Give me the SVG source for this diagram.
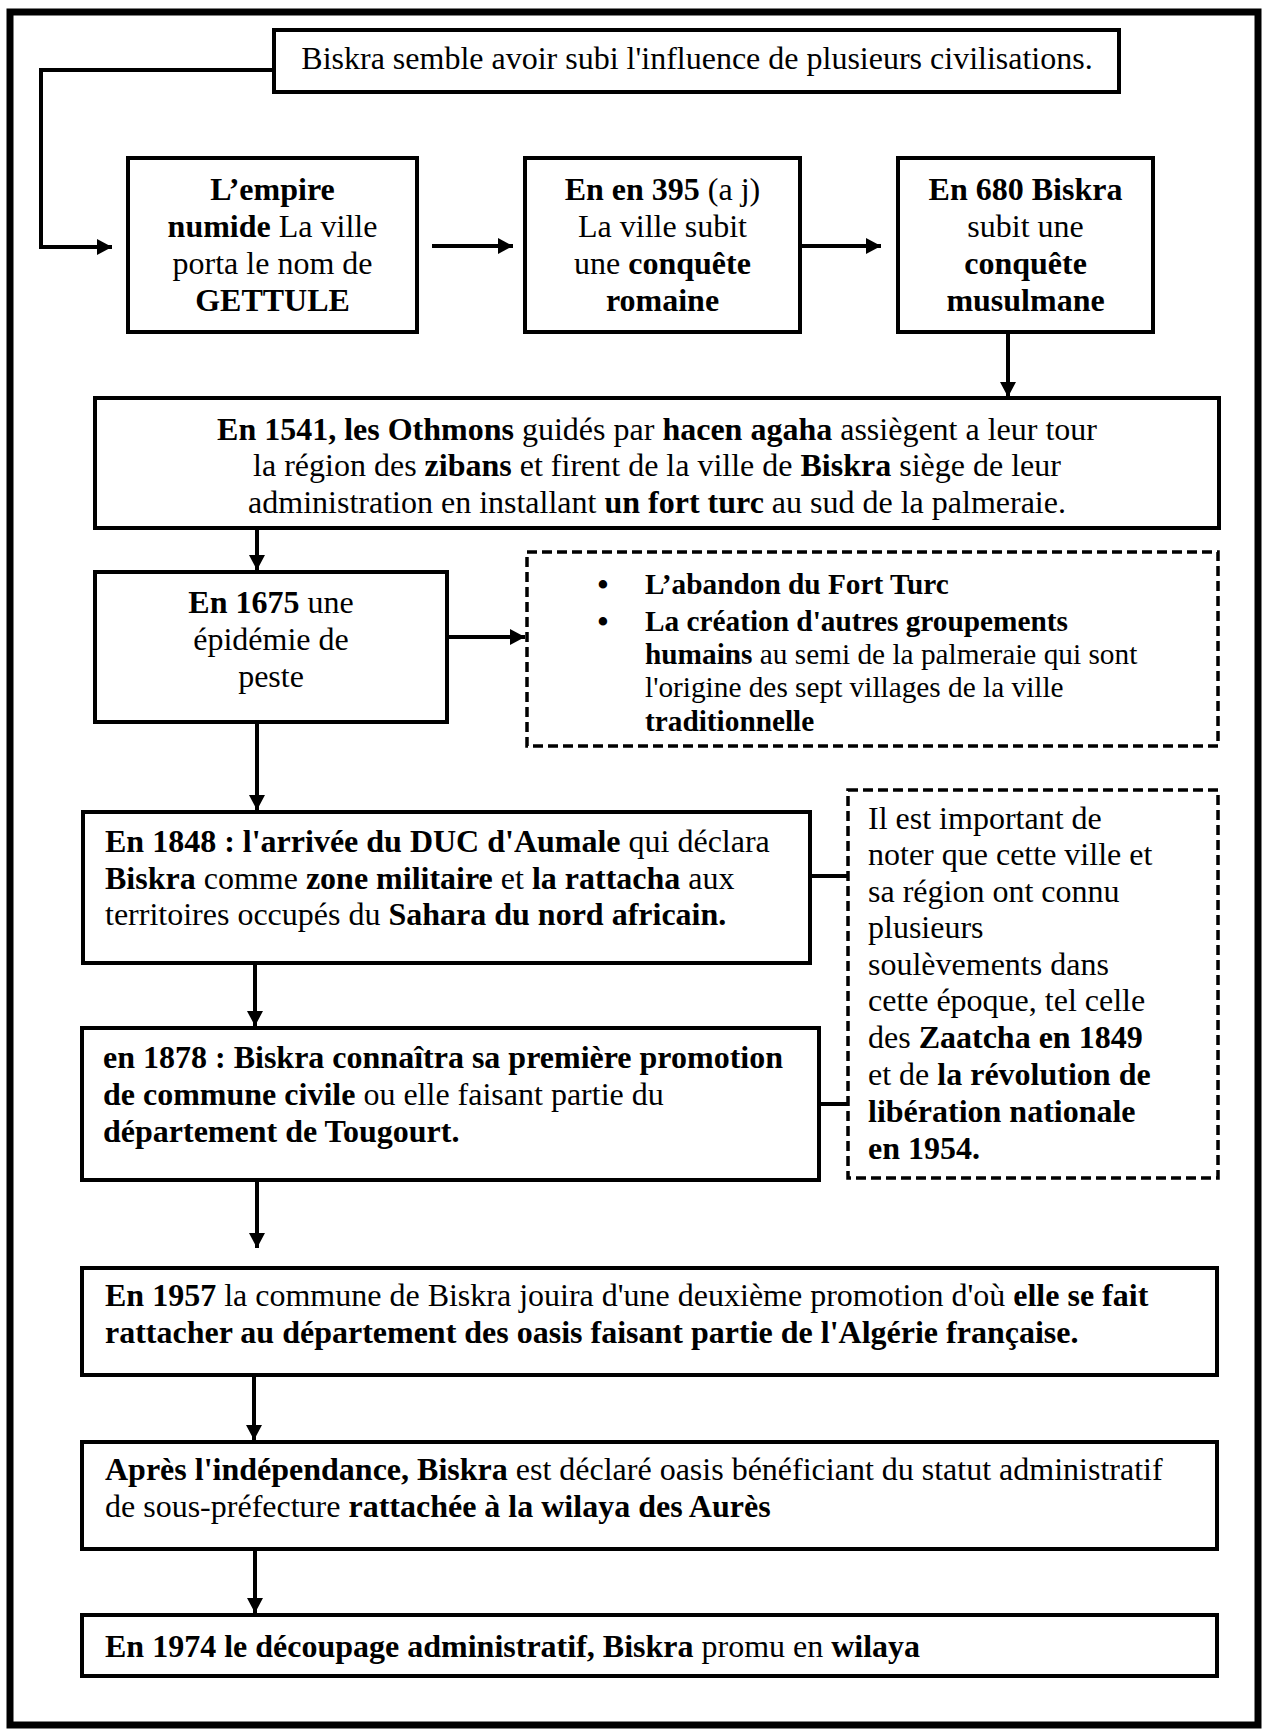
<svg xmlns="http://www.w3.org/2000/svg" width="1266" height="1729" viewBox="0 0 1266 1729">
<style>
.box{fill:#fff;stroke:#000;stroke-width:4}
.dash{fill:#fff;stroke:#000;stroke-width:3.5;stroke-dasharray:10 5}
.frame{fill:none;stroke:#000;stroke-width:7}
.con{fill:none;stroke:#000;stroke-width:4}
.t{font-family:"Liberation Serif","Times New Roman",serif;font-size:32px;fill:#000}
.s{font-size:29.3px}
.bul{font-size:31px;font-weight:bold}
.c{text-anchor:middle}
.b{font-weight:bold}
</style>
<defs>
<marker id="ah" markerUnits="userSpaceOnUse" markerWidth="16" markerHeight="16" refX="15" refY="8" orient="auto">
<path d="M0,0 L15,8 L0,16 Z" fill="#000"/>
</marker>
</defs>
<rect width="1266" height="1729" fill="#fff"/>
<rect class="frame" x="10" y="12" width="1248" height="1713"/>

<g id="connectors">
<path class="con" d="M274,70 H41 V247 H112" marker-end="url(#ah)"/>
<line class="con" x1="432" y1="246" x2="513" y2="246" marker-end="url(#ah)"/>
<line class="con" x1="802" y1="246" x2="881" y2="246" marker-end="url(#ah)"/>
<line class="con" x1="1008" y1="332" x2="1008" y2="397" marker-end="url(#ah)"/>
<line class="con" x1="257" y1="529" x2="257" y2="570" marker-end="url(#ah)"/>
<line class="con" x1="447" y1="637" x2="525" y2="637" marker-end="url(#ah)"/>
<line class="con" x1="257" y1="722" x2="257" y2="810" marker-end="url(#ah)"/>
<line class="con" x1="810" y1="876" x2="849" y2="876"/>
<line class="con" x1="255" y1="963" x2="255" y2="1026" marker-end="url(#ah)"/>
<line class="con" x1="819" y1="1104" x2="849" y2="1104"/>
<line class="con" x1="257" y1="1180" x2="257" y2="1248" marker-end="url(#ah)"/>
<line class="con" x1="254" y1="1375" x2="254" y2="1440" marker-end="url(#ah)"/>
<line class="con" x1="255" y1="1549" x2="255" y2="1613" marker-end="url(#ah)"/>
</g>

<g id="n-top">
<rect class="box" x="274" y="30" width="845" height="62"/>
<text class="t c" x="697" y="69">Biskra semble avoir subi l'influence de plusieurs civilisations.</text>
</g>

<g id="n-numide">
<rect class="box" x="128" y="158" width="289" height="174"/>
<text class="t c" x="272.5" y="200"><tspan class="b">L’empire</tspan></text>
<text class="t c" x="272.5" y="237"><tspan class="b">numide</tspan> La ville</text>
<text class="t c" x="272.5" y="274">porta le nom de</text>
<text class="t c b" x="272.5" y="311">GETTULE</text>
</g>

<g id="n-395">
<rect class="box" x="525" y="158" width="275" height="174"/>
<text class="t c" x="662.5" y="200"><tspan class="b">En en 395</tspan> (a j)</text>
<text class="t c" x="662.5" y="237">La ville subit</text>
<text class="t c" x="662.5" y="274">une <tspan class="b">conquête</tspan></text>
<text class="t c b" x="662.5" y="311">romaine</text>
</g>

<g id="n-680">
<rect class="box" x="898" y="158" width="255" height="174"/>
<text class="t c b" x="1025.5" y="200">En 680 Biskra</text>
<text class="t c" x="1025.5" y="237">subit une</text>
<text class="t c b" x="1025.5" y="274">conquête</text>
<text class="t c b" x="1025.5" y="311">musulmane</text>
</g>

<g id="n-1541">
<rect class="box" x="95" y="398" width="1124" height="130"/>
<text class="t c" x="657" y="440"><tspan class="b">En 1541, les Othmons</tspan> guidés par <tspan class="b">hacen agaha</tspan> assiègent a leur tour</text>
<text class="t c" x="657" y="476">la région des <tspan class="b">zibans</tspan> et firent de la ville de <tspan class="b">Biskra</tspan> siège de leur</text>
<text class="t c" x="657" y="513">administration en installant <tspan class="b">un fort turc</tspan> au sud de la palmeraie.</text>
</g>

<g id="n-1675">
<rect class="box" x="95" y="572" width="352" height="150"/>
<text class="t c" x="271" y="613"><tspan class="b">En 1675</tspan> une</text>
<text class="t c" x="271" y="650">épidémie de</text>
<text class="t c" x="271" y="687">peste</text>
</g>

<g id="n-consequences">
<rect class="dash" x="527" y="552" width="691" height="194"/>
<text class="t bul c" x="603" y="595">•</text>
<text class="t s b" x="645" y="594">L’abandon du Fort Turc</text>
<text class="t bul c" x="603" y="632">•</text>
<text class="t s b" x="645" y="631">La création d'autres groupements</text>
<text class="t s" x="645" y="664"><tspan class="b">humains</tspan> au semi de la palmeraie qui sont</text>
<text class="t s" x="645" y="697">l'origine des sept villages de la ville</text>
<text class="t s b" x="645" y="731">traditionnelle</text>
</g>

<g id="n-1848">
<rect class="box" x="83" y="812" width="727" height="151"/>
<text class="t" x="105" y="852"><tspan class="b">En 1848 : l'arrivée du DUC d'Aumale</tspan> qui déclara</text>
<text class="t" x="105" y="889"><tspan class="b">Biskra</tspan> comme <tspan class="b">zone militaire</tspan> et <tspan class="b">la rattacha</tspan> aux</text>
<text class="t" x="105" y="925">territoires occupés du <tspan class="b">Sahara du nord africain.</tspan></text>
</g>

<g id="n-note">
<rect class="dash" x="848" y="790" width="370" height="388"/>
<text class="t" x="868" y="829">Il est important de</text>
<text class="t" x="868" y="865">noter que cette ville et</text>
<text class="t" x="868" y="902">sa région ont connu</text>
<text class="t" x="868" y="938">plusieurs</text>
<text class="t" x="868" y="975">soulèvements dans</text>
<text class="t" x="868" y="1011">cette époque, tel celle</text>
<text class="t" x="868" y="1048">des <tspan class="b">Zaatcha en 1849</tspan></text>
<text class="t" x="868" y="1085">et de <tspan class="b">la révolution de</tspan></text>
<text class="t b" x="868" y="1122">libération nationale</text>
<text class="t b" x="868" y="1159">en 1954.</text>
</g>

<g id="n-1878">
<rect class="box" x="82" y="1028" width="737" height="152"/>
<text class="t b" x="103" y="1068">en 1878 : Biskra connaîtra sa première promotion</text>
<text class="t" x="103" y="1105"><tspan class="b">de commune civile</tspan> ou elle faisant partie du</text>
<text class="t b" x="103" y="1142">département de Tougourt.</text>
</g>

<g id="n-1957">
<rect class="box" x="82" y="1268" width="1135" height="107"/>
<text class="t" x="105" y="1306"><tspan class="b">En 1957</tspan> la commune de Biskra jouira d'une deuxième promotion d'où <tspan class="b">elle se fait</tspan></text>
<text class="t b" x="105" y="1343">rattacher au département des oasis faisant partie de l'Algérie française.</text>
</g>

<g id="n-independance">
<rect class="box" x="82" y="1442" width="1135" height="107"/>
<text class="t" x="105" y="1480"><tspan class="b">Après l'indépendance, Biskra</tspan> est déclaré oasis bénéficiant du statut administratif</text>
<text class="t" x="105" y="1517">de sous-préfecture <tspan class="b">rattachée à la wilaya des Aurès</tspan></text>
</g>

<g id="n-1974">
<rect class="box" x="82" y="1615" width="1135" height="61"/>
<text class="t" x="105" y="1657"><tspan class="b">En 1974 le découpage administratif, Biskra</tspan> promu en <tspan class="b">wilaya</tspan></text>
</g>
</svg>
